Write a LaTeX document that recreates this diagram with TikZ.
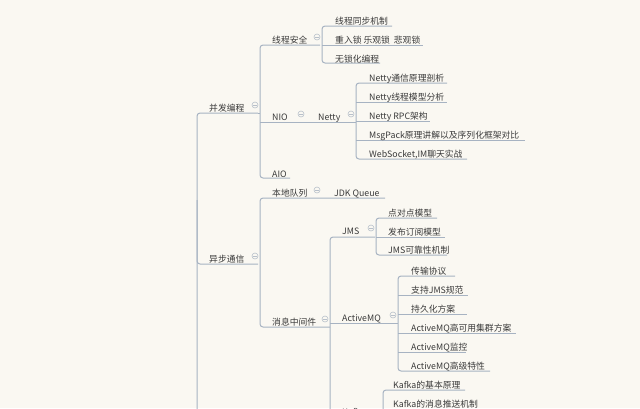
\documentclass[tikz,border=0pt]{standalone}
\usepackage{fontspec}
\newfontfamily\cjk{Noto Sans CJK SC}
\definecolor{bg}{HTML}{FAF8F2}
\definecolor{ln}{HTML}{A7B3C2}
\definecolor{tx}{HTML}{3A3A3A}
\definecolor{cl}{HTML}{B8C0CA}
\tikzset{
 t/.style={anchor=base west,inner sep=0pt,font=\cjk\fontsize{8.8}{9}\selectfont,text=tx},
 conn/.style={draw=ln,line width=1pt,rounded corners=3pt},
 coll/.style={circle,draw=cl,line width=0.6pt,minimum size=6pt,inner sep=0pt,
   path picture={\draw[cl,line width=0.6pt] ([xshift=-1.8pt]path picture bounding box.center)--([xshift=1.8pt]path picture bounding box.center);}}
}
% \lf{name}{x}{baselineY}{text}
\newcommand{\lf}[4]{\node[t] (#1) at (#2,#3+2) {#4};}
\begin{document}
\begin{tikzpicture}[x=1pt,y=-1pt]
\useasboundingbox (0,0) rectangle (640,408);
\fill[bg] (0,0) rectangle (640,408);
\clip (0,0) rectangle (640,408);
% root trunk
\draw[conn] (258,113) -- (197,113) -- (197,420);
\draw[conn] (197,200) |- (258,264);
% 并发编程
\lf{bf}{209}{109}{并发编程}
\node[coll] (cbf) at (255,105) {};
\draw[conn] (320,45) -- (260,45) -- (260,178) -- (290,178);
\draw[conn] (258,113) -- (260,113);
\lf{xc}{272}{41}{线程安全}
\node[coll] (cxc) at (317,37) {};
\lf{nio}{272}{118}{NIO}
\node[coll] (cnio) at (301,114) {};
\lf{netty}{318}{118}{Netty}
\node[coll] (cnetty) at (351,114) {};
\draw[conn] (260,122) -- (356,122);
\lf{aio}{272}{175}{AIO}
% 线程安全 children
\draw[conn] (392,26) -- (322,26) -- (322,63) -- (380,63);
\draw[conn] (322,45) -- (423,45);
\lf{a1}{335}{22}{线程同步机制}
\lf{a2}{335}{41}{重入锁 乐观锁\ \ 悲观锁}
\lf{a3}{335}{60}{无锁化编程}
% Netty children
\draw[conn] (447,83) -- (356,83) -- (356,159) -- (467,159);
\draw[conn] (356,102) -- (447,102);
\draw[conn] (356,121) -- (430,121);
\draw[conn] (356,140) -- (525,140);
\lf{n1}{369}{79}{Netty通信原理剖析}
\lf{n2}{369}{98}{Netty线程模型分析}
\lf{n3}{369}{117}{Netty RPC架构}
\lf{n4}{369}{136}{MsgPack原理讲解以及序列化框架对比}
\lf{n5}{369}{155}{WebSocket,IM聊天实战}
% 异步通信
\lf{yb}{209}{260}{异步通信}
\node[coll] (cyb) at (255,256) {};
\draw[conn] (385,198) -- (260,198) -- (260,327) -- (330,327);
\lf{bd}{272}{194}{本地队列}
\node[coll] (cbd) at (317,190) {};
\lf{jdk}{334}{194}{JDK Queue}
\lf{xx}{272}{323}{消息中间件}
\node[coll] (cxx) at (325,319) {};
\draw[conn] (375,237) -- (330,237) -- (330,420);
\draw[conn] (330,323) -- (398,323);
\lf{jms}{342}{232}{JMS}
\node[coll] (cjms) at (371,228) {};
\lf{amq}{342}{319}{ActiveMQ}
\node[coll] (camq) at (393,315) {};
% JMS children
\draw[conn] (437,218) -- (376,218) -- (376,255) -- (447,255);
\draw[conn] (376,237) -- (445,237);
\lf{j1}{388}{214}{点对点模型}
\lf{j2}{388}{233}{发布订阅模型}
\lf{j3}{388}{251}{JMS可靠性机制}
% ActiveMQ children
\draw[conn] (455,276) -- (398,276) -- (398,371) -- (490,371);
\draw[conn] (398,295) -- (468,295);
\draw[conn] (398,314) -- (467,314);
\draw[conn] (398,333) -- (516,333);
\draw[conn] (398,352) -- (466,352);
\lf{m1}{411}{272}{传输协议}
\lf{m2}{411}{291}{支持JMS规范}
\lf{m3}{411}{310}{持久化方案}
\lf{m4}{411}{329}{ActiveMQ高可用集群方案}
\lf{m5}{411}{348}{ActiveMQ监控}
\lf{m6}{411}{367}{ActiveMQ高级特性}
% Kafka
\lf{kf}{342}{413}{Kafka}
\draw[conn] (465,390) -- (383,390) -- (383,420);
\draw[conn] (383,409) -- (480,409);
\lf{k1}{393}{386}{Kafka的基本原理}
\lf{k2}{393}{405}{Kafka的消息推送机制}
\end{tikzpicture}
\end{document}
